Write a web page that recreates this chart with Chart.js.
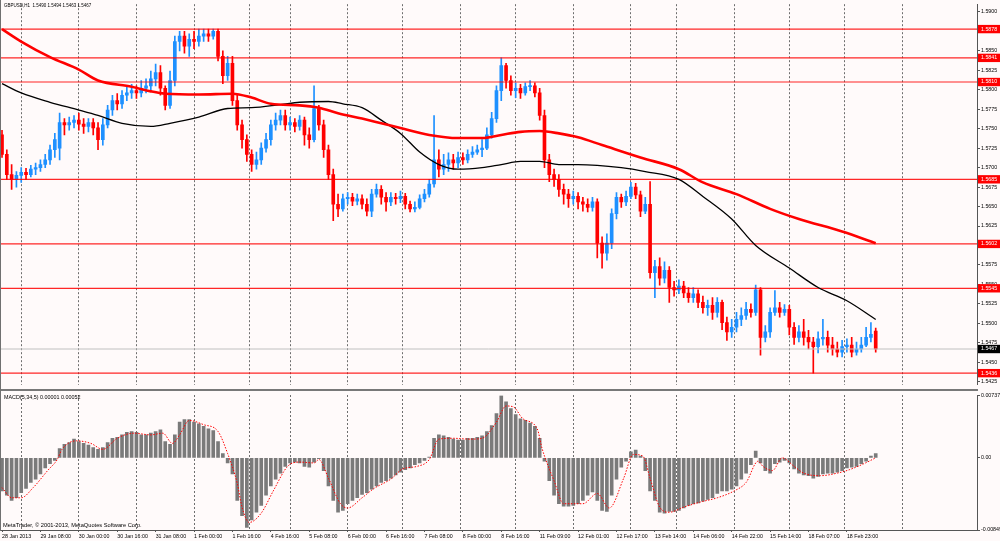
<!DOCTYPE html>
<html>
<head>
<meta charset="utf-8">
<title>GBPUSD,H1</title>
<script src="https://cdn.jsdelivr.net/npm/chart.js@4.4.1/dist/chart.umd.min.js"></script>
<style>
  html, body { margin: 0; padding: 0; background: #fffafa; }
  #wrap { position: relative; width: 1000px; height: 541px; overflow: hidden; font-family: "Liberation Sans", Arial, sans-serif; }
  #pricePane { position: absolute; left: 0; top: 0; }
  #macdPane { position: absolute; left: 0; top: 391px; }
  #sep { position: absolute; left: 0; top: 389px; width: 978px; height: 2px; background: #787878; }
  #leftEdge { position: absolute; left: 0; top: 0; width: 1px; height: 531px; background: #707070; }
  .txt { position: absolute; color: #000; white-space: nowrap; line-height: 1; }
</style>
</head>
<body>
<div id="wrap">
  <canvas id="pricePane" width="1000" height="389"></canvas>
  <canvas id="macdPane" width="1000" height="150"></canvas>
  <div id="sep"></div>
  <div id="leftEdge"></div>
  <div class="txt" style="left:4px; top:4px; font-size:4.5px;">GBPUSD,H1&nbsp; 1.5490 1.5494 1.5463 1.5467</div>
  <div class="txt" style="left:4px; top:395px; font-size:5.4px;">MACD(5,34,5) 0.00001 0.00052</div>
  <div class="txt" style="left:3px; top:523px; font-size:5.7px;">MetaTrader, © 2001-2013, MetaQuotes Software Corp.</div>
</div>
<script>
// hourly chart resampled to one candle per two hours, index 0 = 28 Jan 2013
const opens = [
  1.5742,1.5717,1.5691,1.5685,1.5690,1.5694,1.5691,1.5698,1.5700,1.5704,
  1.5710,1.5723,1.5725,1.5758,1.5755,1.5758,1.5761,1.5756,1.5753,1.5758,
  1.5751,1.5736,1.5755,1.5774,1.5786,1.5782,1.5793,1.5796,1.5799,1.5796,
  1.5802,1.5805,1.5814,1.5822,1.5802,1.5780,1.5812,1.5862,1.5869,1.5856,
  1.5865,1.5862,1.5869,1.5872,1.5869,1.5875,1.5843,1.5818,1.5834,1.5786,
  1.5755,1.5736,1.5717,1.5704,1.5710,1.5725,1.5736,1.5755,1.5761,1.5767,
  1.5755,1.5758,1.5753,1.5761,1.5742,1.5736,1.5776,1.5755,1.5723,1.5691,
  1.5653,1.5647,1.5660,1.5662,1.5657,1.5660,1.5653,1.5644,1.5666,1.5672,
  1.5662,1.5656,1.5662,1.5660,1.5663,1.5653,1.5647,1.5649,1.5660,1.5666,
  1.5679,1.5710,1.5698,1.5704,1.5710,1.5706,1.5713,1.5710,1.5717,1.5720,
  1.5723,1.5725,1.5742,1.5763,1.5799,1.5831,1.5812,1.5799,1.5802,1.5796,
  1.5804,1.5805,1.5796,1.5767,1.5710,1.5691,1.5685,1.5672,1.5666,1.5660,
  1.5663,1.5656,1.5653,1.5649,1.5656,1.5603,1.5590,1.5603,1.5641,1.5662,
  1.5656,1.5663,1.5675,1.5665,1.5644,1.5653,1.5565,1.5573,1.5558,1.5568,
  1.5546,1.5543,1.5548,1.5539,1.5533,1.5538,1.5527,1.5520,1.5523,1.5514,
  1.5527,1.5501,1.5489,1.5495,1.5505,1.5510,1.5518,1.5514,1.5543,1.5482,
  1.5489,1.5514,1.5520,1.5514,1.5518,1.5495,1.5482,1.5489,1.5482,1.5476,
  1.5470,1.5480,1.5482,1.5472,1.5467,1.5463,1.5470,1.5472,1.5463,1.5467,
  1.5472,1.5482,1.5490
];
const highs = [
  1.5748,1.5723,1.5704,1.5695,1.5700,1.5699,1.5703,1.5706,1.5710,1.5717,
  1.5729,1.5744,1.5770,1.5763,1.5765,1.5767,1.5770,1.5763,1.5763,1.5763,
  1.5758,1.5763,1.5780,1.5793,1.5795,1.5799,1.5804,1.5807,1.5805,1.5812,
  1.5814,1.5824,1.5833,1.5831,1.5805,1.5824,1.5869,1.5875,1.5875,1.5872,
  1.5875,1.5878,1.5878,1.5878,1.5878,1.5878,1.5850,1.5843,1.5843,1.5793,
  1.5761,1.5742,1.5723,1.5720,1.5732,1.5744,1.5761,1.5770,1.5774,1.5774,
  1.5765,1.5763,1.5767,1.5765,1.5751,1.5805,1.5780,1.5761,1.5729,1.5698,
  1.5666,1.5666,1.5668,1.5667,1.5666,1.5665,1.5660,1.5672,1.5679,1.5677,
  1.5668,1.5668,1.5667,1.5670,1.5667,1.5657,1.5656,1.5665,1.5672,1.5685,
  1.5767,1.5723,1.5717,1.5719,1.5717,1.5720,1.5719,1.5723,1.5727,1.5729,
  1.5736,1.5751,1.5771,1.5805,1.5841,1.5834,1.5818,1.5809,1.5807,1.5809,
  1.5812,1.5809,1.5802,1.5774,1.5717,1.5698,1.5691,1.5679,1.5672,1.5670,
  1.5668,1.5662,1.5660,1.5662,1.5660,1.5611,1.5615,1.5647,1.5668,1.5666,
  1.5670,1.5681,1.5680,1.5670,1.5662,1.5682,1.5581,1.5584,1.5579,1.5573,
  1.5554,1.5556,1.5554,1.5546,1.5546,1.5543,1.5535,1.5530,1.5533,1.5533,
  1.5530,1.5508,1.5505,1.5514,1.5520,1.5527,1.5525,1.5549,1.5546,1.5497,
  1.5520,1.5542,1.5527,1.5524,1.5523,1.5501,1.5497,1.5505,1.5491,1.5482,
  1.5489,1.5505,1.5490,1.5482,1.5476,1.5478,1.5480,1.5482,1.5476,1.5482,
  1.5495,1.5501,1.5494
];
const lows = [
  1.5713,1.5685,1.5672,1.5675,1.5681,1.5685,1.5688,1.5691,1.5695,1.5700,
  1.5704,1.5713,1.5710,1.5742,1.5748,1.5751,1.5748,1.5744,1.5746,1.5742,
  1.5723,1.5729,1.5751,1.5767,1.5774,1.5776,1.5786,1.5789,1.5789,1.5791,
  1.5796,1.5799,1.5805,1.5793,1.5774,1.5776,1.5805,1.5850,1.5847,1.5843,
  1.5853,1.5856,1.5862,1.5862,1.5865,1.5837,1.5808,1.5812,1.5780,1.5748,
  1.5725,1.5708,1.5695,1.5698,1.5704,1.5720,1.5729,1.5748,1.5755,1.5748,
  1.5748,1.5746,1.5748,1.5729,1.5725,1.5733,1.5748,1.5713,1.5685,1.5632,
  1.5637,1.5644,1.5653,1.5651,1.5652,1.5647,1.5638,1.5637,1.5662,1.5653,
  1.5644,1.5651,1.5653,1.5655,1.5647,1.5643,1.5643,1.5647,1.5656,1.5662,
  1.5675,1.5688,1.5691,1.5695,1.5698,1.5700,1.5704,1.5706,1.5713,1.5717,
  1.5714,1.5723,1.5738,1.5758,1.5786,1.5802,1.5793,1.5790,1.5789,1.5793,
  1.5799,1.5791,1.5761,1.5700,1.5682,1.5676,1.5663,1.5653,1.5649,1.5653,
  1.5647,1.5644,1.5643,1.5644,1.5584,1.5571,1.5581,1.5596,1.5634,1.5649,
  1.5651,1.5660,1.5660,1.5637,1.5641,1.5558,1.5533,1.5549,1.5552,1.5527,
  1.5535,1.5538,1.5533,1.5527,1.5527,1.5520,1.5513,1.5510,1.5505,1.5508,
  1.5492,1.5478,1.5482,1.5489,1.5497,1.5505,1.5508,1.5510,1.5459,1.5476,
  1.5482,1.5510,1.5508,1.5510,1.5485,1.5473,1.5476,1.5472,1.5467,1.5436,
  1.5462,1.5472,1.5463,1.5459,1.5457,1.5457,1.5463,1.5457,1.5459,1.5463,
  1.5470,1.5476,1.5463
];
const closes = [
  1.5717,1.5691,1.5685,1.5690,1.5694,1.5691,1.5698,1.5700,1.5704,1.5710,
  1.5723,1.5736,1.5758,1.5755,1.5758,1.5761,1.5756,1.5753,1.5758,1.5751,
  1.5736,1.5755,1.5774,1.5786,1.5782,1.5793,1.5796,1.5799,1.5796,1.5802,
  1.5805,1.5814,1.5822,1.5802,1.5780,1.5812,1.5862,1.5869,1.5856,1.5865,
  1.5862,1.5869,1.5872,1.5869,1.5875,1.5843,1.5818,1.5834,1.5786,1.5755,
  1.5736,1.5717,1.5704,1.5710,1.5725,1.5736,1.5755,1.5761,1.5767,1.5755,
  1.5758,1.5753,1.5761,1.5742,1.5736,1.5776,1.5755,1.5723,1.5691,1.5653,
  1.5647,1.5660,1.5662,1.5657,1.5660,1.5653,1.5644,1.5666,1.5672,1.5662,
  1.5656,1.5662,1.5660,1.5663,1.5653,1.5647,1.5649,1.5660,1.5666,1.5679,
  1.5710,1.5698,1.5704,1.5710,1.5706,1.5713,1.5710,1.5717,1.5720,1.5723,
  1.5725,1.5742,1.5763,1.5799,1.5831,1.5812,1.5799,1.5802,1.5796,1.5804,
  1.5805,1.5796,1.5767,1.5710,1.5691,1.5685,1.5672,1.5666,1.5660,1.5663,
  1.5656,1.5653,1.5649,1.5656,1.5603,1.5590,1.5603,1.5641,1.5662,1.5656,
  1.5663,1.5675,1.5665,1.5644,1.5653,1.5565,1.5573,1.5558,1.5568,1.5546,
  1.5543,1.5548,1.5539,1.5533,1.5538,1.5527,1.5520,1.5523,1.5514,1.5527,
  1.5501,1.5489,1.5495,1.5505,1.5510,1.5518,1.5514,1.5543,1.5482,1.5489,
  1.5514,1.5520,1.5514,1.5518,1.5495,1.5482,1.5489,1.5482,1.5476,1.5470,
  1.5480,1.5482,1.5472,1.5467,1.5463,1.5470,1.5472,1.5463,1.5467,1.5472,
  1.5482,1.5486,1.5467
];

// moving averages, read at a few candle positions
const maSlowIdx = [0,4,10,16,20,27,31,34,41,48,52,56,62,66,70,75,79,83,89,95,100,104,108,112,116,120,125,133,141,146,153,160,166,175,182];
const maSlow = [1.5878,1.5862,1.5842,1.5826,1.5812,1.5804,1.5798,1.5795,1.5794,1.5795,1.5790,1.5782,1.5780,1.5777,1.5770,1.5763,1.5757,1.5751,1.5742,1.5738,1.5738,1.5742,1.5746,1.5747,1.5744,1.5739,1.5729,1.5713,1.5698,1.5681,1.5666,1.5647,1.5634,1.5618,1.5603];
const maFastIdx = [0,4,10,16,20,25,31,35,41,47,52,58,62,68,71,75,79,83,87,91,95,100,104,108,112,116,120,129,134,141,146,152,157,164,170,176,182];
const maFast = [1.5808,1.5796,1.5784,1.5774,1.5767,1.5757,1.5753,1.5757,1.5765,1.5776,1.5777,1.5781,1.5784,1.5785,1.5782,1.5777,1.5761,1.5744,1.5720,1.5704,1.5698,1.5700,1.5704,1.5708,1.5708,1.5704,1.5704,1.5700,1.5695,1.5685,1.5663,1.5634,1.5600,1.5571,1.5546,1.5529,1.5505];

const levelPrices = [1.5878, 1.5841, 1.5810, 1.5685, 1.5602, 1.5545, 1.5436];
const lastPrice = 1.5467;
const priceTicks = [1.5900,1.5850,1.5825,1.5800,1.5775,1.5750,1.5725,1.5700,1.5675,1.5650,1.5625,1.5575,1.5550,1.5525,1.5500,1.5475,1.5450,1.5425];

const macdHist = [
  -0.0039,-0.0044,-0.0050,-0.0047,-0.0041,-0.0036,-0.0029,-0.0025,-0.0019,-0.0012,
  -0.0007,-0.0003,0.0011,0.0016,0.0018,0.0022,0.0019,0.0017,0.0015,0.0012,
  0.0010,0.0012,0.0018,0.0023,0.0024,0.0027,0.0030,0.0031,0.0030,0.0027,
  0.0027,0.0029,0.0031,0.0033,0.0019,0.0016,0.0027,0.0042,0.0045,0.0045,
  0.0042,0.0040,0.0037,0.0034,0.0032,0.0019,0.0005,-0.0006,-0.0019,-0.0050,
  -0.0068,-0.0082,-0.0073,-0.0064,-0.0056,-0.0044,-0.0033,-0.0025,-0.0018,-0.0010,
  -0.0006,-0.0005,-0.0006,-0.0010,-0.0011,-0.0005,-0.0001,-0.0015,-0.0033,-0.0050,
  -0.0064,-0.0062,-0.0054,-0.0050,-0.0047,-0.0043,-0.0041,-0.0037,-0.0033,-0.0029,
  -0.0027,-0.0024,-0.0020,-0.0017,-0.0014,-0.0012,-0.0008,-0.0006,-0.0003,0.0001,
  0.0023,0.0027,0.0026,0.0024,0.0022,0.0021,0.0021,0.0023,0.0023,0.0024,
  0.0026,0.0031,0.0038,0.0052,0.0073,0.0066,0.0058,0.0051,0.0046,0.0044,
  0.0041,0.0037,0.0023,-0.0004,-0.0027,-0.0044,-0.0054,-0.0057,-0.0057,-0.0056,
  -0.0054,-0.0050,-0.0044,-0.0040,-0.0050,-0.0062,-0.0063,-0.0044,-0.0025,-0.0011,
  -0.0004,0.0007,0.0009,0.0002,-0.0015,-0.0039,-0.0050,-0.0064,-0.0065,-0.0063,
  -0.0063,-0.0062,-0.0059,-0.0056,-0.0054,-0.0053,-0.0051,-0.0049,-0.0047,-0.0042,
  -0.0039,-0.0039,-0.0037,-0.0033,-0.0025,-0.0018,-0.0008,0.0008,-0.0006,-0.0015,
  -0.0018,-0.0007,-0.0005,-0.0003,-0.0006,-0.0013,-0.0018,-0.0020,-0.0021,-0.0024,
  -0.0022,-0.0019,-0.0018,-0.0018,-0.0017,-0.0015,-0.0012,-0.0011,-0.0010,-0.0007,
  -0.0004,0.0002,0.0005
];
const signalIdx = [0,2,4,6.5,9.5,11.5,12.5,15.5,18.5,21,24,27.5,31,33.5,35.5,37,39,42,45,47,49,50,51.5,54,56.5,59.5,62,65,66,68,70.5,72,75,77.5,81,83.5,86.5,89,91,94,97.5,100,103,105,106.5,108.5,111.5,112.5,115,117,121,124,126.5,129.5,131.5,133.5,135,137,139,142,145.5,149,152.5,155,157.5,158.5,160.5,162.5,165,167,170.5,174,176.5,179.5,182];
const signalVals = [-0.0035,-0.0047,-0.0047,-0.0035,-0.0015,-0.0002,0.0010,0.0020,0.0017,0.0010,0.0023,0.0029,0.0027,0.0029,0.0017,0.0027,0.0044,0.0039,0.0031,0.0005,-0.0030,-0.0058,-0.0076,-0.0065,-0.0039,-0.0010,-0.0005,-0.0006,-0.0002,-0.0024,-0.0054,-0.0059,-0.0047,-0.0036,-0.0025,-0.0013,-0.0010,-0.0002,0.0022,0.0023,0.0022,0.0023,0.0042,0.0061,0.0060,0.0046,0.0034,0.0011,-0.0027,-0.0054,-0.0054,-0.0042,-0.0059,-0.0024,0.0004,0.0002,-0.0024,-0.0058,-0.0064,-0.0058,-0.0052,-0.0047,-0.0039,-0.0029,-0.0004,-0.0010,-0.0015,0.0000,-0.0010,-0.0018,-0.0021,-0.0018,-0.0014,-0.0007,0.0000];
const macdTicks = [0.00737, 0, -0.00849];
const macdTickLabels = ['0.00737', '0.00', '-0.00849'];

const timeTickIdx = [0,8,16,24,32,40,48,56,64,72,80,88,96,104,112,120,128,136,144,152,160,168,176];
const timeLabels = ['28 Jan 2013','29 Jan 08:00','30 Jan 00:00','30 Jan 16:00','31 Jan 08:00','1 Feb 00:00','1 Feb 16:00','4 Feb 16:00','5 Feb 08:00','6 Feb 00:00','6 Feb 16:00','7 Feb 08:00','8 Feb 00:00','8 Feb 16:00','11 Feb 09:00','12 Feb 01:00','12 Feb 17:00','13 Feb 14:00','14 Feb 06:00','14 Feb 22:00','15 Feb 14:00','18 Feb 07:00','18 Feb 23:00'];
const gridIdx = [4,16,28,40,51.5,60,72,83.5,95.5,107,119,131,140.5,152.5,164,175.5,187.5];

const X_MIN = -0.42, X_MAX = 203.1;
const BULL = '#1e90ff', BEAR = '#ff0000';
const FONT = "'Liberation Sans', Arial, sans-serif";
const AXIS_W = 23;

const candleColor = ctx => closes[ctx.dataIndex] >= opens[ctx.dataIndex] ? BULL : BEAR;
const pts = (xs, ys) => xs.map((x, i) => ({ x: x, y: ys[i] }));

const gridAxis = {
  type: 'linear', min: X_MIN, max: X_MAX, offset: false,
  afterBuildTicks: s => { s.ticks = gridIdx.map(v => ({ value: v })); },
  afterFit: s => { s.height = 0; },
  ticks: { display: false },
  grid: { color: '#6e6e6e', lineWidth: 1, drawTicks: false, offset: false },
  border: { display: false, dash: [2, 2] }
};

const levelSets = levelPrices.map(p => ({
  type: 'line', data: [{ x: X_MIN, y: p }, { x: X_MAX, y: p }],
  borderColor: 'rgba(255,0,0,0.85)', borderWidth: 1.2, pointRadius: 0, order: 1
}));

const isLevel = v => levelPrices.includes(v);

new Chart(document.getElementById('pricePane'), {
  type: 'bar',
  data: {
    datasets: [
      { type: 'line', label: 'MA slow', data: pts(maSlowIdx, maSlow), borderColor: '#ff0000',
        borderWidth: 2.6, pointRadius: 0, cubicInterpolationMode: 'monotone', order: 0 },
      { type: 'line', label: 'MA fast', data: pts(maFastIdx, maFast), borderColor: '#000000',
        borderWidth: 1.3, pointRadius: 0, cubicInterpolationMode: 'monotone', order: 0 },
      ...levelSets,
      { type: 'line', data: [{ x: X_MIN, y: lastPrice }, { x: X_MAX, y: lastPrice }],
        borderColor: '#c0c0c0', borderWidth: 1, pointRadius: 0, order: 1 },
      { type: 'bar', label: 'body', data: opens.map((o, i) => ({ x: i, y: [o, closes[i]] })),
        backgroundColor: candleColor, barThickness: 3, minBarLength: 1, grouped: false, order: 2 },
      { type: 'bar', label: 'wick', data: highs.map((h, i) => ({ x: i, y: [lows[i], h] })),
        backgroundColor: candleColor, barThickness: 1, grouped: false, order: 3 }
    ]
  },
  options: {
    responsive: false, animation: false,
    layout: { padding: { top: 2, bottom: 1, left: 0, right: 0 } },
    plugins: { legend: { display: false }, tooltip: { enabled: false } },
    scales: {
      x: gridAxis,
      y: {
        position: 'right', min: 1.5421, max: 1.5910,
        afterBuildTicks: s => { s.ticks = priceTicks.concat(levelPrices, [lastPrice]).map(v => ({ value: v })); },
        afterFit: s => { s.width = AXIS_W; },
        grid: { drawOnChartArea: false, drawTicks: true, tickLength: 3, color: '#555' },
        border: { display: true, color: '#555', width: 1 },
        ticks: {
          autoSkip: false, padding: 1, font: { family: FONT, size: 5.3 },
          color: c => (isLevel(c.tick.value) || c.tick.value === lastPrice) ? '#ffffff' : '#000000',
          showLabelBackdrop: true,
          backdropColor: c => isLevel(c.tick.value) ? '#ff0000' : (c.tick.value === lastPrice ? '#000000' : 'rgba(0,0,0,0)'),
          backdropPadding: { left: 3, right: 3, top: 1, bottom: 1 },
          callback: v => Number(v).toFixed(4)
        }
      }
    }
  }
});

new Chart(document.getElementById('macdPane'), {
  type: 'bar',
  data: {
    datasets: [
      { type: 'line', label: 'Signal', data: pts(signalIdx, signalVals), borderColor: '#ff0000',
        borderWidth: 1, borderDash: [1.5, 1.5], pointRadius: 0, cubicInterpolationMode: 'monotone', order: 0 },
      { type: 'bar', label: 'MACD', data: macdHist.map((v, i) => ({ x: i, y: v })),
        backgroundColor: '#7a7a7a', barThickness: 3, grouped: false, order: 1 }
    ]
  },
  options: {
    responsive: false, animation: false,
    layout: { padding: { top: 2, bottom: 0, left: 0, right: 0 } },
    plugins: { legend: { display: false }, tooltip: { enabled: false } },
    scales: {
      xg: Object.assign({}, gridAxis, { position: 'top' }),
      x: {
        type: 'linear', min: X_MIN, max: X_MAX, offset: false, position: 'bottom',
        afterBuildTicks: s => { s.ticks = timeTickIdx.map(v => ({ value: v })); },
        afterFit: s => { s.height = 11; },
        grid: { drawOnChartArea: false, drawTicks: true, tickLength: 2, color: '#555', offset: false },
        border: { display: true, color: '#555', width: 1 },
        ticks: {
          autoSkip: false, maxRotation: 0, minRotation: 0, align: 'start', padding: 1,
          font: { family: FONT, size: 5.3 }, color: '#000',
          callback: (v, i) => timeLabels[i]
        }
      },
      y: {
        position: 'right', min: -0.00849, max: 0.00737,
        afterBuildTicks: s => { s.ticks = macdTicks.map(v => ({ value: v })); },
        afterFit: s => { s.width = AXIS_W; },
        grid: { drawOnChartArea: false, drawTicks: true, tickLength: 3, color: '#555' },
        border: { display: true, color: '#555', width: 1 },
        ticks: {
          autoSkip: false, padding: 1, font: { family: FONT, size: 5.3 }, color: '#000',
          callback: (v, i) => macdTickLabels[i]
        }
      }
    }
  }
});
</script>
</body>
</html>
